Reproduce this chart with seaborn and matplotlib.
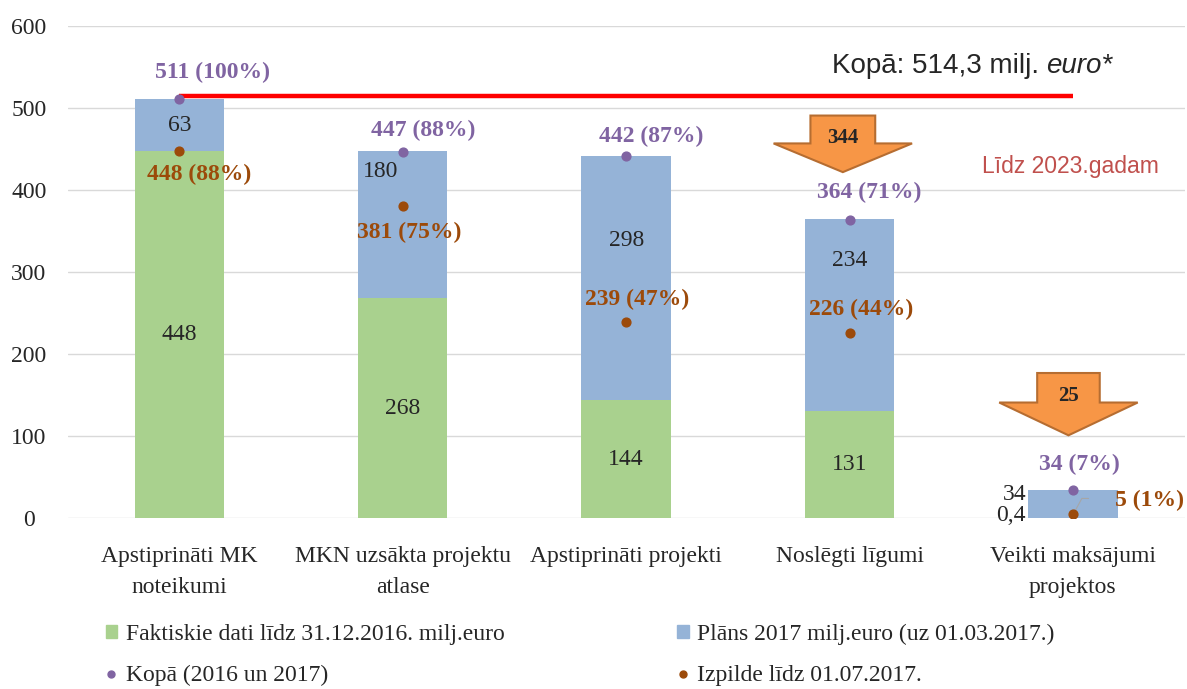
import numpy as np
import matplotlib
matplotlib.use("Agg")
import matplotlib.pyplot as plt
import seaborn as sns
from matplotlib.patches import Patch, Polygon
from matplotlib.lines import Line2D

# -------------------------
# Data
# -------------------------
categories = ["Apstiprināti MK\nnoteikumi", "MKN uzsākta projektu\natlase",
              "Apstiprināti projekti", "Noslēgti līgumi",
              "Veikti maksājumi\nprojektos"]
actual_2016 = [448, 268, 144, 131, 0.4]
plan_2017 = [63, 180, 298, 234, 34]
total = [511, 447, 442, 364, 34]
total_labels = ["511 (100%)", "447 (88%)", "442 (87%)", "364 (71%)", "34 (7%)"]
done = [448, 381, 239, 226, 5]
done_labels = ["448 (88%)", "381 (75%)", "239 (47%)", "226 (44%)", "5 (1%)"]
actual_labels = ["448", "268", "144", "131", "0,4"]
plan_labels = ["63", "180", "298", "234", "34"]
overall = 514.3
arrow_values = ["344", "25"]

GREEN = "#A9D18E"
BLUE = "#95B3D7"
PURPLE = "#8064A2"
BROWN = "#9C4A0A"
ORANGE = "#F79646"
SERIF = "Liberation Serif"
SANS = "Liberation Sans"
FS = 17

sns.set_style("white")
plt.rcParams["font.family"] = [SERIF, "DejaVu Serif"]

fig = plt.figure(figsize=(11.87, 6.89), dpi=100)
ax = fig.add_axes([0.057, 0.248, 0.941, 0.714])

x = np.arange(len(categories))
stack_top = [a + p for a, p in zip(actual_2016, plan_2017)]

# stacked bars: full height in blue, green part drawn over it
sns.barplot(x=categories, y=stack_top, color=BLUE, saturation=1, width=0.4,
            linewidth=0, ax=ax)
sns.barplot(x=categories, y=actual_2016, color=GREEN, saturation=1, width=0.4,
            linewidth=0, ax=ax)

# total line
ax.plot([x[0], x[-1]], [overall, overall], color="#FF0000", lw=3.2, zorder=3,
        solid_capstyle="butt")

# points
ax.scatter(x, total, s=40, color=PURPLE, zorder=5)
ax.scatter(x, done, s=40, color=BROWN, zorder=5)

# bar segment labels
for i in range(4):
    ax.text(x[i], actual_2016[i] / 2, actual_labels[i], ha="center", va="center",
            fontsize=FS)
plan_pos = [(0, 479), (-0.1, 423), (0, 339), (0, 314)]
for i, (dx, yy) in enumerate(plan_pos):
    ax.text(x[i] + dx, yy, plan_labels[i], ha="center", va="center", fontsize=FS)
ax.text(x[4] - 0.21, 29, plan_labels[4], ha="right", va="center", fontsize=FS)
ax.text(x[4] - 0.21, 3, actual_labels[4], ha="right", va="center", fontsize=FS)

# point labels
tot_off = [(0.15, 33), (0.09, 26), (0.11, 24), (0.09, 33), (0.03, 32)]
for i, (dx, dy) in enumerate(tot_off):
    ax.text(x[i] + dx, total[i] + dy, total_labels[i], ha="center", va="center",
            fontsize=FS, fontweight="bold", color=PURPLE)
done_off = [(0.09, -29), (0.03, -33), (0.05, 28), (0.05, 28)]
for i, (dx, dy) in enumerate(done_off):
    ax.text(x[i] + dx, done[i] + dy, done_labels[i], ha="center", va="center",
            fontsize=FS, fontweight="bold", color=BROWN)
ax.text(x[4] + 0.19, done[4] + 17, done_labels[4], ha="left", va="center",
        fontsize=FS, fontweight="bold", color=BROWN)
ax.plot([x[4] + 0.01, x[4] + 0.04, x[4] + 0.07], [done[4] + 4, done[4] + 19, done[4] + 19],
        color="#A6A6A6", lw=0.8, zorder=4)

# orange arrows
def down_arrow(cx, top, neck, tip, shaft_hw, head_hw, label):
    pts = [(cx - shaft_hw, top), (cx + shaft_hw, top), (cx + shaft_hw, neck),
           (cx + head_hw, neck), (cx, tip), (cx - head_hw, neck), (cx - shaft_hw, neck)]
    ax.add_patch(Polygon(pts, closed=True, facecolor=ORANGE, edgecolor="#B66D31",
                         lw=1.5, zorder=6))
    ax.text(cx, (top + neck) / 2 - 10, label, ha="center", va="center", fontsize=15,
            fontweight="bold", zorder=7)

down_arrow(2.97, 491, 457, 422, 0.145, 0.31, arrow_values[0])
down_arrow(3.98, 177, 141, 101, 0.14, 0.31, arrow_values[1])

# annotations
t1 = ax.text(2.92, 552, "Kopā: 514,3 milj. ", ha="left", va="center", fontsize=20,
             family=SANS)
ax.annotate("euro*", xy=(1, 0.5), xycoords=t1, ha="left", va="center",
            fontsize=20, family=SANS, style="italic")
ax.text(3.99, 429, "Līdz 2023.gadam", ha="center", va="center", fontsize=16.5,
        family=SANS, color="#C0504D")

# axes
ax.set_ylim(0, 600)
ax.set_xlim(-0.5, 4.5)
ax.set_yticks(range(0, 601, 100))
ax.yaxis.grid(True, color="#D9D9D9", lw=1)
ax.set_axisbelow(True)
ax.tick_params(axis="y", labelsize=FS, length=0, pad=28)
ax.tick_params(axis="x", labelsize=FS, length=0, pad=20)
for lbl in ax.get_yticklabels():
    lbl.set_horizontalalignment("center")
for lbl in ax.get_xticklabels():
    lbl.set_linespacing(1.6)
sns.despine(ax=ax, left=True, bottom=True)

# legend
handles = [
    Patch(color=GREEN, label="Faktiskie dati līdz 31.12.2016. milj.euro"),
    Line2D([], [], marker="o", ls="", color=PURPLE, markersize=5, label="Kopā (2016 un 2017)"),
    Patch(color=BLUE, label="Plāns 2017 milj.euro (uz 01.03.2017.)"),
    Line2D([], [], marker="o", ls="", color=BROWN, markersize=5, label="Izpilde līdz 01.07.2017."),
]
fig.legend(handles=handles, ncol=2, loc="lower left", bbox_to_anchor=(0.071, -0.027),
           frameon=False, fontsize=FS, handlelength=0.5, handleheight=0.5,
           handletextpad=0.35, columnspacing=7.3, labelspacing=0.85)

plt.savefig("out.png", dpi=100)
